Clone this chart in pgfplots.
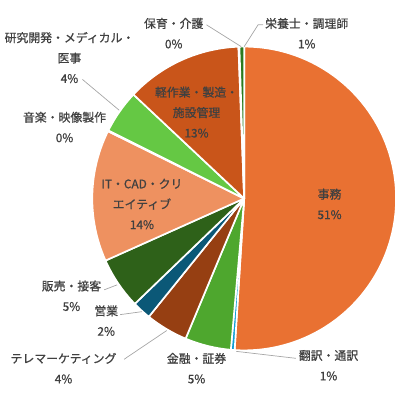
\documentclass[border=0pt]{standalone}
\usepackage{pgfplots}
\usepackage{pgfplotstable}
\usepackage{fontspec}
\setmainfont{Noto Sans CJK JP}[FakeBold=0.8]
\pgfplotsset{compat=1.18}

\definecolor{txt}{HTML}{404040}
\definecolor{lead}{HTML}{A6A6A6}
\definecolor{slice0}{HTML}{E97132}
\definecolor{slice1}{HTML}{0F9ED5}
\definecolor{slice2}{HTML}{4EA72E}
\definecolor{slice3}{HTML}{963F12}
\definecolor{slice4}{HTML}{0B5877}
\definecolor{slice5}{HTML}{2E6119}
\definecolor{slice6}{HTML}{EE9160}
\definecolor{slice7}{HTML}{8ED973}
\definecolor{slice8}{HTML}{65C844}
\definecolor{slice9}{HTML}{C9551A}
\definecolor{slice10}{HTML}{A0A0A0}
\definecolor{slice11}{HTML}{2A7A1E}

% share in percent, clockwise from 12 o'clock
\pgfplotstableread{
v
51.0
0.4
4.9
4.5
2.0
5.5
14.0
0.1
4.6
12.4
0.1
0.5
}\piedata

\begin{document}
\begin{tikzpicture}[every node/.style={font=\fontsize{8.5}{14.6}\selectfont, text=txt, align=center}]
\begin{axis}[
  x=0.025cm, y=0.025cm,
  xmin=0, xmax=400, ymin=0, ymax=400,
  hide axis, clip=false,
]
\pgfplotsextra{
  \path (axis cs:0,0) rectangle (axis cs:400,400);
  \def\R{3.825cm}
  \pgfplotstablegetrowsof{\piedata}
  \pgfmathtruncatemacro{\nrows}{\pgfplotsretval-1}
  \xdef\cum{0}
  \foreach \i in {0,...,\nrows}{
    \pgfplotstablegetelem{\i}{v}\of{\piedata}
    \let\val\pgfplotsretval
    \pgfmathsetmacro{\a}{90-3.6*\cum}
    \pgfmathsetmacro{\b}{90-3.6*(\cum+\val)}
    \fill[fill=slice\i, draw=white, line width=1.2pt, line join=round]
      (axis cs:243,200) -- ++(\a:\R) arc[start angle=\a, end angle=\b, radius=\R] -- cycle;
    \pgfmathsetmacro{\newcum}{\cum+\val}
    \xdef\cum{\newcum}
  }
  % leader lines
  \draw[lead, line width=0.5pt] (axis cs:205,375) -- (axis cs:240,353);
  \draw[lead, line width=0.5pt] (axis cs:262,375) -- (axis cs:257,375) -- (axis cs:243,353);
  \draw[lead, line width=0.5pt] (axis cs:80,320) -- (axis cs:117,289);
  \draw[lead, line width=0.5pt] (axis cs:102,108) -- (axis cs:115,113);
  \draw[lead, line width=0.5pt] (axis cs:118,83) -- (axis cs:140,86);
  \draw[lead, line width=0.5pt] (axis cs:122,38) -- (axis cs:165,67);
  \draw[lead, line width=0.5pt] (axis cs:295,39) -- (axis cs:235,46);
}
\node at (axis cs:329,194.5) {事務\\51\%};
\node at (axis cs:328,32) {翻訳・通訳\\1\%};
\node at (axis cs:195,29) {金融・証券\\5\%};
\node at (axis cs:61,29) {テレマーケティング\\4\%};
\node at (axis cs:104,77) {営業\\2\%};
\node at (axis cs:69,102) {販売・接客\\5\%};
\node at (axis cs:140,194.5) {IT・CAD・クリ\\エイティブ\\14\%};
\node at (axis cs:62,272) {音楽・映像製作\\0\%};
\node at (axis cs:67,342) {研究開発・メディカル・\\医事\\4\%};
\node at (axis cs:195,287) {軽作業・製造・\\施設管理\\13\%};
\node at (axis cs:172,366.5) {保育・介護\\0\%};
\node at (axis cs:306,366.5) {栄養士・調理師\\1\%};
\end{axis}
\end{tikzpicture}
\end{document}
